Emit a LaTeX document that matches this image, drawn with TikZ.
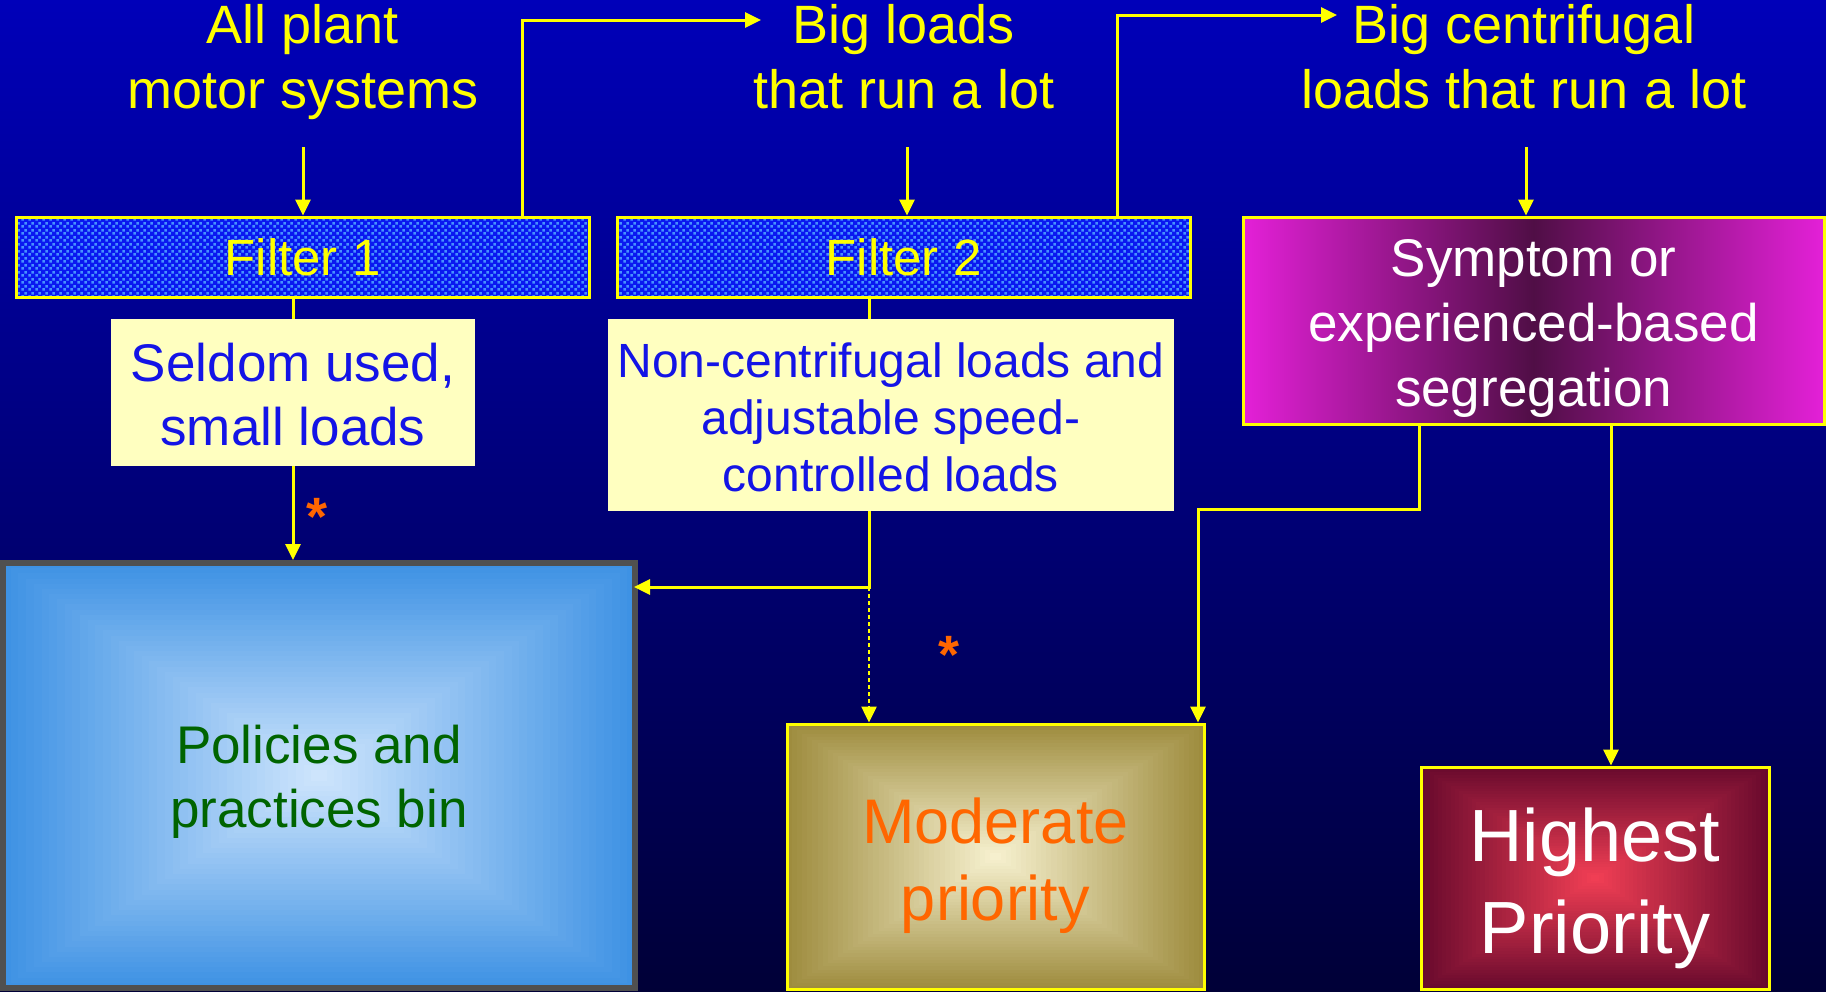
\documentclass[tikz,border=0pt]{standalone}
\usepackage{fontspec}
\setmainfont{Liberation Sans}
\usetikzlibrary{arrows.meta,patterns,calc,shadings}

\definecolor{bgtop}{RGB}{0,0,185}
\definecolor{bgbot}{RGB}{0,0,55}
\definecolor{ylw}{RGB}{255,255,0}
\definecolor{fblue}{RGB}{10,25,240}
\definecolor{fdot}{RGB}{70,145,255}
\definecolor{lblue}{RGB}{20,20,230}
\definecolor{cream}{RGB}{255,255,192}
\definecolor{mag}{RGB}{228,32,216}
\definecolor{magd}{RGB}{80,14,70}
\definecolor{polout}{RGB}{62,146,228}
\definecolor{polin}{RGB}{205,228,252}
\definecolor{modout}{RGB}{158,140,62}
\definecolor{modin}{RGB}{246,240,206}
\definecolor{hiout}{RGB}{105,10,45}
\definecolor{hiin}{RGB}{240,62,84}
\definecolor{orng}{RGB}{255,102,0}
\definecolor{dgreen}{RGB}{0,100,0}
\definecolor{pgray}{RGB}{80,80,80}

\pgfdeclarepatternformonly{fdots}{\pgfpointorigin}{\pgfpoint{7pt}{7pt}}{\pgfpoint{7pt}{7pt}}{%
  \pgfpathrectangle{\pgfpoint{0.4pt}{0.4pt}}{\pgfpoint{2.8pt}{2.8pt}}%
  \pgfpathrectangle{\pgfpoint{3.9pt}{3.9pt}}{\pgfpoint{2.8pt}{2.8pt}}%
  \pgfusepath{fill}}

\newcommand\myrectgrad[2]{%
  \foreach \gi in {0,...,40}{%
    \pgfmathsetmacro\gf{\gi/82}%
    \pgfmathsetmacro\gp{2.5*\gi}%
    \fill[#2!\gp!#1] ($(path picture bounding box.south west)!\gf!(path picture bounding box.north east)$) rectangle ($(path picture bounding box.north east)!\gf!(path picture bounding box.south west)$);}}

\begin{document}
\begin{tikzpicture}[x=1pt,y=-1pt,
  arr/.style={draw=ylw,line width=3pt,-{Triangle[width=15pt,length=16pt]}},
  conn/.style={draw=ylw,line width=3pt},
  title/.style={text=ylw,align=center,inner sep=0pt,font=\fontsize{54}{65}\selectfont},
  filterbox/.style={draw=ylw,line width=3pt,preaction={fill=fblue},pattern=fdots,pattern color=fdot,
    minimum width=573pt,minimum height=80pt,inner sep=0pt,text=ylw,font=\fontsize{51}{60}\selectfont},
  creambox/.style={fill=cream,inner sep=0pt},
  boxtext/.style={inner sep=0pt,align=center},
  rg/.style 2 args={path picture={\myrectgrad{#1}{#2}}},
  ast/.style={text=orng,inner sep=0pt,font=\fontsize{54}{54}\selectfont\bfseries}]

\useasboundingbox (0,0) rectangle (1826,991);
\shade[top color=bgtop,bottom color=bgbot] (0,0) rectangle (1826,991);

% titles
\node[title] (t1) at (303,63) {\strut All plant\\\strut motor systems};
\node[title] (t2) at (904,63) {\strut Big loads\\\strut that run a lot};
\node[title] (t3) at (1524,63) {\strut Big centrifugal\\\strut loads that run a lot};

% filters
\node[filterbox] (f1) at (302.5,257) {Filter 1};
\node[filterbox] (f2) at (903.5,257) {Filter 2};
\node[draw=ylw,line width=3pt,left color=mag,right color=mag,middle color=magd,
  minimum width=581pt,minimum height=207pt,inner sep=0pt] (s) at (1533.5,320.5) {};
\node[boxtext,text=white,font=\fontsize{53}{65}\selectfont] (stext) at ([yshift=-8pt]s.center)
  {Symptom or\\experienced-based\\segregation};

% cream boxes
\node[creambox,minimum width=364pt,minimum height=147pt] (sel) at (293,392.5) {};
\node[boxtext,text=lblue,font=\fontsize{53}{64}\selectfont] (seltext) at ([yshift=-2pt]sel.center)
  {Seldom used,\\small loads};
\node[creambox,minimum width=566pt,minimum height=192pt] (nc) at (891,415) {};
\node[boxtext,text=lblue,font=\fontsize{48}{57}\selectfont] (nctext) at ([yshift=-2pt]nc.center)
  {Non-centrifugal loads and\\adjustable speed-\\controlled loads};

% bins
\node[draw=pgray,line width=6pt,rg={polout}{polin},minimum width=632pt,minimum height=425pt,
  inner sep=0pt] (pol) at (319,775.5) {};
\node[boxtext,text=dgreen,font=\fontsize{53}{64}\selectfont] (poltext) at ([yshift=-6pt]pol.center)
  {Policies and\\practices bin};
\node[draw=ylw,line width=3pt,rg={modout}{modin},minimum width=417pt,minimum height=265pt,
  inner sep=0pt] (mod) at (995.5,856.5) {};
\node[boxtext,text=orng,font=\fontsize{63}{77}\selectfont] (modtext) at ([yshift=-9pt]mod.center)
  {Moderate\\priority};
\node[draw=ylw,line width=3pt,rg={hiout}{hiin},minimum width=348pt,minimum height=222pt,
  inner sep=0pt] (hi) at (1595,878) {};
\node[boxtext,text=white,font=\fontsize{74}{92}\selectfont] (hitext) at ([yshift=-10pt]hi.center)
  {Highest\\Priority};

% asterisks
\node[ast] (ast1) at (317,516.5) {*};
\node[ast] (ast2) at (949,654.5) {*};

% coordinates
\coordinate (a1) at (761,20);
\coordinate (a2) at (1337,15);
\coordinate (j1) at (869,587);
\coordinate (j2) at (1198,509);

% connectors
\draw[arr,shorten <=19pt] (t1.south) -- (t1.south |- f1.north);
\draw[arr,shorten <=19pt] ([xshift=3pt]t2.south) -- ([xshift=3pt]t2.south |- f2.north);
\draw[arr,shorten <=19pt] ([xshift=2pt]t3.south) -- ([xshift=2pt]t3.south |- s.north);

\draw[arr] ([xshift=219.5pt]f1.north) |- (a1);
\draw[arr] ([xshift=213.5pt]f2.north) |- (a2);

\draw[conn] (sel.north |- f1.south) -- (sel.north);
\draw[arr] (sel.south) -- (sel.south |- pol.north);

\draw[conn] ([xshift=-22pt]nc.north |- f2.south) -- ([xshift=-22pt]nc.north);
\draw[arr,shorten >=-4pt] ([xshift=-22pt]nc.south) -- (j1) -- (pol.east |- j1);
\draw[arr,dash pattern=on 3.5pt off 3.5pt,line width=2.5pt] (j1) -- (j1 |- mod.north);

\draw[arr] ([xshift=-114.5pt]s.south) |- (j2) -- (j2 |- mod.north);
\draw[arr] ([xshift=77.5pt]s.south) -- ([xshift=77.5pt]s.south |- hi.north);
\end{tikzpicture}
\end{document}
